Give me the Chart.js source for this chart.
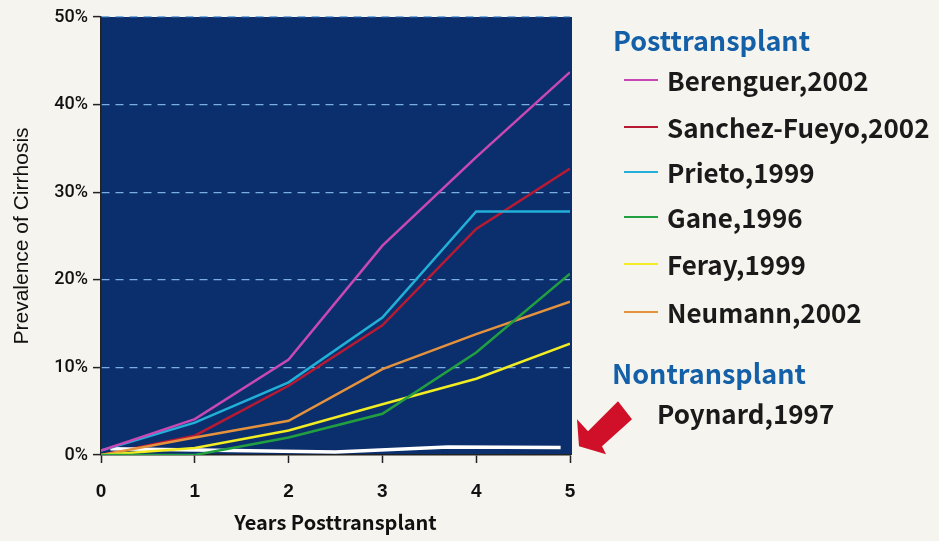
<!DOCTYPE html>
<html>
<head>
<meta charset="utf-8">
<script src="https://cdn.jsdelivr.net/npm/chart.js@4.4.1/dist/chart.umd.min.js"></script>
<style>
  html, body { margin: 0; padding: 0; background: #f6f4ee; }
  #wrap { position: relative; width: 939px; height: 541px; overflow: hidden; }
  #chart { position: absolute; left: 0; top: 0; }
  .legend { position: absolute; font-family: "Noto Sans CJK JP", "Liberation Sans", sans-serif; font-weight: 700; color: #1a1a1a; }
  .group { position: absolute; color: #1460a8; font-size: 27px; line-height: 1; white-space: nowrap; }
  .row { position: absolute; font-size: 26px; line-height: 1; white-space: nowrap; }
  .swatch { position: absolute; width: 34px; height: 2px; }
</style>
</head>
<body>
<div id="wrap">
  <canvas id="chart" width="939" height="541"></canvas>
  <div class="legend" id="legend"></div>
</div>
<script>
const years = [0, 1, 2, 3, 4, 5];
const yTicks = [0, 10, 20, 30, 40, 50];

const studyNames = ["Berenguer,2002", "Sanchez-Fueyo,2002", "Prieto,1999", "Gane,1996", "Feray,1999", "Neumann,2002"];
const studyColors = ["#c848b4", "#b81a34", "#22b0d8", "#22a040", "#f2ec22", "#e4923e"];

const berenguer = [0.5, 4.1, 10.9, 23.9, 34.0, 43.7];
const sanchezFueyo = [0, 2.2, 7.9, 14.8, 25.8, 32.7];
const prieto = [0.5, 3.7, 8.3, 15.7, 27.8, 27.8];
const gane = [0, 0, 2.0, 4.7, 11.7, 20.7];
const feray = [0, 0.8, 2.8, 5.8, 8.7, 12.7];
const neumann = [0, 2.0, 3.9, 9.8, 13.8, 17.5];

const poynardName = "Poynard,1997";
const poynardYears = [0.1, 2.5, 3.7, 4.9];
const poynard = [0.7, 0.35, 0.9, 0.85];

const studySeries = [berenguer, sanchezFueyo, prieto, gane, feray, neumann];

function toPoints(xs, ys) {
  return xs.map((x, i) => ({ x: x, y: ys[i] }));
}

const datasets = studySeries.map((values, i) => ({
  label: studyNames[i],
  data: toPoints(years, values),
  borderColor: studyColors[i],
  borderWidth: 2.5,
  pointRadius: 0,
  tension: 0,
  order: i === 1 ? 1 : 0
}));

datasets.push({
  label: poynardName,
  data: toPoints(poynardYears, poynard),
  borderColor: "#ffffff",
  borderWidth: 3.5,
  pointRadius: 0,
  tension: 0,
  order: 0
});

const plotBackground = {
  id: "plotBackground",
  beforeDraw(chart) {
    const { ctx, chartArea } = chart;
    ctx.save();
    ctx.fillStyle = "#0b2f6c";
    ctx.fillRect(chartArea.left, chartArea.top, chartArea.right - chartArea.left + 2, chartArea.bottom - chartArea.top);
    ctx.restore();
  }
};

// red arrow pointing at the nontransplant line
const arrow = {
  id: "arrow",
  afterDraw(chart) {
    const { ctx, chartArea } = chart;
    const tipX = chartArea.right + 9;
    const tipY = chart.scales.y.getPixelForValue(1);
    const pts = [[0, 0], [-2, -27], [9, -15], [39, -45], [53, -27], [23, 0], [27, 8]];
    ctx.save();
    ctx.fillStyle = "#d01028";
    ctx.beginPath();
    pts.forEach((p, i) => {
      if (i === 0) ctx.moveTo(tipX + p[0], tipY + p[1]);
      else ctx.lineTo(tipX + p[0], tipY + p[1]);
    });
    ctx.closePath();
    ctx.fill();
    ctx.restore();
  }
};

new Chart(document.getElementById("chart"), {
  type: "line",
  data: { datasets },
  options: {
    responsive: false,
    animation: false,
    layout: { padding: { left: 0, right: 369, top: 17, bottom: 0 } },
    plugins: {
      legend: { display: false },
      tooltip: { enabled: false }
    },
    scales: {
      x: {
        type: "linear",
        min: 0,
        max: 5,
        afterFit(scale) { scale.height = 86; },
        afterBuildTicks(scale) { scale.ticks = years.map(v => ({ value: v })); },
        grid: { drawOnChartArea: false, drawTicks: true, tickLength: 8, tickColor: "#222", tickWidth: 1.5 },
        border: { display: true, color: "#222", width: 1.5 },
        ticks: {
          color: "#111",
          padding: 17,
          font: { family: "Liberation Sans", size: 19, weight: "bold" }
        },
        title: {
          display: true,
          text: "Years Posttransplant",
          color: "#111",
          padding: { top: 0, bottom: 7 },
          font: { family: "Noto Sans CJK JP", size: 20, weight: "bold" }
        }
      },
      y: {
        min: 0,
        max: 50,
        afterFit(scale) { scale.width = 101; },
        afterBuildTicks(scale) { scale.ticks = yTicks.map(v => ({ value: v })); },
        grid: {
          color: ctx => (ctx.tick && ctx.tick.value === 0 ? "rgba(0,0,0,0)" : "#78aee0"),
          lineWidth: 1.2,
          drawTicks: true,
          tickLength: 8,
          tickColor: "#222",
          tickWidth: 1.5
        },
        border: { display: true, color: "#222", width: 1.5, dash: [8, 6] },
        ticks: {
          color: "#111",
          padding: 5,
          callback: v => v + "%",
          font: { family: "Roboto", size: 18, weight: "500" }
        },
        title: {
          display: true,
          text: "Prevalence of Cirrhosis",
          color: "#111",
          padding: { top: 10, bottom: 0 },
          font: { family: "Liberation Sans", size: 21 }
        }
      }
    }
  },
  plugins: [plotBackground, arrow]
});

// legend on the right, built from the same names and colours
const legend = document.getElementById("legend");
const rowTops = [80, 127, 172, 217, 264, 312];
let html = `<div class="group" style="left:613px;top:${40 - 14}px">Posttransplant</div>`;
studyNames.forEach((name, i) => {
  html += `<div class="swatch" style="left:624px;top:${rowTops[i] - 1}px;background:${studyColors[i]}"></div>`;
  html += `<div class="row" style="left:667px;top:${rowTops[i] - 13}px">${name}</div>`;
});
html += `<div class="group" style="left:612px;top:${373 - 14}px">Nontransplant</div>`;
html += `<div class="row" style="left:657px;top:${413 - 13}px">${poynardName}</div>`;
legend.innerHTML = html;
</script>
</body>
</html>
